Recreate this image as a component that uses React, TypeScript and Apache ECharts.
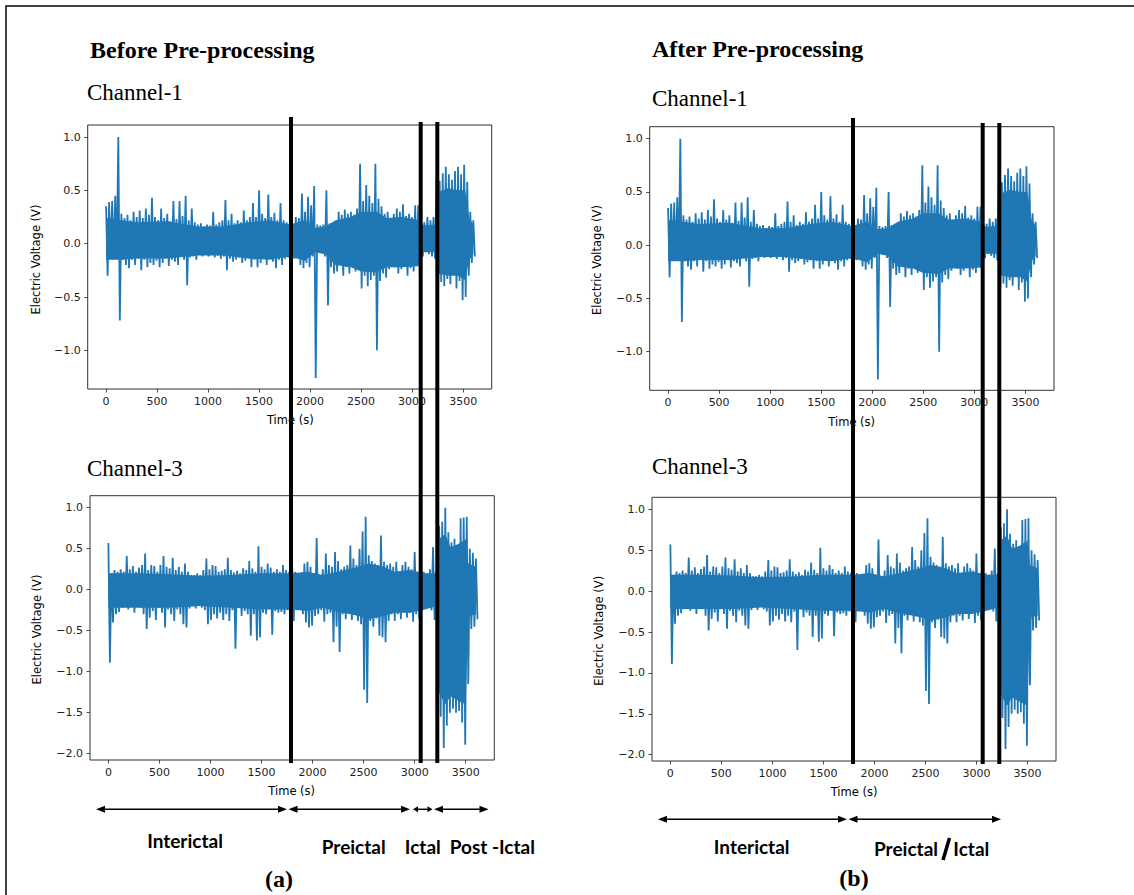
import React, { useEffect, useRef } from "react";
import * as echarts from "echarts";

// ---------- data ----------
const timeTicks = [0, 500, 1000, 1500, 2000, 2500, 3000, 3500];
const ch1VoltTicks = [-1.0, -0.5, 0.0, 0.5, 1.0];
const ch3VoltTicks = [-2.0, -1.5, -1.0, -0.5, 0.0, 0.5, 1.0];
const binSeconds = 30; // one upper and one lower excursion per 30 s bin, t = 0..3600

// peak excursions (spikes) per 30 s bin
const ch1Hi = [
  0.35, 0.39, 0.4, 0.45, 1.0, 0.28, 0.24, 0.27, 0.22, 0.3,
  0.25, 0.31, 0.24, 0.33, 0.27, 0.43, 0.25, 0.22, 0.33, 0.24,
  0.28, 0.21, 0.4, 0.23, 0.4, 0.26, 0.45, 0.22, 0.33, 0.2,
  0.18, 0.19, 0.16, 0.18, 0.17, 0.3, 0.18, 0.2, 0.22, 0.41,
  0.22, 0.28, 0.19, 0.22, 0.2, 0.31, 0.22, 0.25, 0.38, 0.25,
  0.5, 0.28, 0.24, 0.46, 0.25, 0.29, 0.22, 0.38, 0.22, 0.2,
  0.19, 0.18, 0.25, 0.24, 0.47, 0.3, 0.44, 0.36, 0.54, 0.18,
  0.17, 0.18, 0.5, 0.19, 0.18, 0.2, 0.3, 0.27, 0.32, 0.28,
  0.3, 0.27, 0.33, 0.75, 0.4, 0.55, 0.45, 0.38, 0.75, 0.42,
  0.35, 0.28, 0.3, 0.22, 0.28, 0.33, 0.3, 0.37, 0.26, 0.28,
  0.25, 0.36, 0.36, 0.18, 0.2, 0.25, 0.22, 0.25, 0.6, 0.59,
  0.66, 0.72, 0.65, 0.6, 0.68, 0.72, 0.65, 0.74, 0.58, 0.3,
  0.22,
];
const ch1Lo = [
  -0.3, -0.12, -0.14, -0.13, -0.72, -0.15, -0.2, -0.23, -0.15, -0.2,
  -0.14, -0.25, -0.15, -0.22, -0.18, -0.2, -0.16, -0.22, -0.18, -0.14,
  -0.21, -0.15, -0.17, -0.2, -0.12, -0.15, -0.39, -0.13, -0.12, -0.15,
  -0.1, -0.12, -0.09, -0.12, -0.1, -0.13, -0.11, -0.14, -0.12, -0.25,
  -0.14, -0.17, -0.15, -0.13, -0.18, -0.16, -0.14, -0.22, -0.15, -0.22,
  -0.18, -0.14, -0.2, -0.14, -0.17, -0.23, -0.15, -0.2, -0.14, -0.13,
  -0.1, -0.14, -0.1, -0.2, -0.23, -0.18, -0.22, -0.12, -1.26, -0.08,
  -0.09, -0.12, -0.58, -0.22, -0.28, -0.26, -0.2, -0.3, -0.22, -0.28,
  -0.2, -0.26, -0.24, -0.42, -0.3, -0.4, -0.34, -0.3, -1.0, -0.35,
  -0.28, -0.32, -0.24, -0.2, -0.22, -0.28, -0.24, -0.2, -0.3, -0.23,
  -0.26, -0.2, -0.3, -0.12, -0.08, -0.1, -0.12, -0.14, -0.4, -0.36,
  -0.4, -0.33, -0.38, -0.28, -0.42, -0.35, -0.53, -0.5, -0.3, -0.18,
  -0.12,
];
const ch3Hi = [
  0.57, 0.2, 0.24, 0.22, 0.25, 0.22, 0.41, 0.25, 0.29, 0.22,
  0.27, 0.3, 0.44, 0.24, 0.3, 0.29, 0.22, 0.3, 0.41, 0.28,
  0.26, 0.39, 0.24, 0.28, 0.22, 0.32, 0.22, 0.18, 0.18, 0.2,
  0.18, 0.24, 0.38, 0.25, 0.3, 0.29, 0.22, 0.23, 0.25, 0.39,
  0.24, 0.21, 0.23, 0.2, 0.26, 0.24, 0.35, 0.26, 0.22, 0.53,
  0.28, 0.25, 0.32, 0.27, 0.22, 0.25, 0.22, 0.3, 0.24, 0.22,
  0.3, 0.22, 0.18, 0.2, 0.32, 0.34, 0.28, 0.2, 0.63, 0.13,
  0.25, 0.44, 0.3, 0.28, 0.46, 0.35, 0.25, 0.28, 0.3, 0.54,
  0.38, 0.3, 0.5, 0.71, 0.89, 0.42, 0.35, 0.32, 0.3, 0.66,
  0.34, 0.3, 0.32, 0.28, 0.34, 0.22, 0.3, 0.34, 0.28, 0.25,
  0.46, 0.22, 0.2, 0.22, 0.2, 0.25, 0.52, 0.22, 0.78, 0.83,
  1.0, 0.7, 0.58, 0.62, 0.55, 0.87, 0.88, 0.89, 0.5, 0.45,
  0.38,
];
const ch3Lo = [
  -0.89, -0.4, -0.3, -0.27, -0.22, -0.2, -0.24, -0.2, -0.28, -0.18,
  -0.22, -0.3, -0.48, -0.34, -0.26, -0.37, -0.22, -0.28, -0.46, -0.24,
  -0.3, -0.38, -0.24, -0.3, -0.42, -0.46, -0.23, -0.2, -0.23, -0.18,
  -0.22, -0.25, -0.42, -0.37, -0.3, -0.35, -0.28, -0.37, -0.3, -0.38,
  -0.25, -0.72, -0.22, -0.32, -0.26, -0.3, -0.56, -0.3, -0.62, -0.58,
  -0.28, -0.3, -0.22, -0.55, -0.26, -0.28, -0.27, -0.3, -0.25, -0.28,
  -0.38, -0.25, -0.23, -0.3, -0.4, -0.46, -0.44, -0.32, -0.3, -0.25,
  -0.39, -0.3, -0.28, -0.64, -0.45, -0.76, -0.3, -0.36, -0.28, -0.37,
  -0.3, -0.38, -0.42, -1.22, -1.38, -0.38, -0.45, -0.35, -0.56, -0.58,
  -0.64, -0.38, -0.3, -0.38, -0.3, -0.36, -0.28, -0.34, -0.28, -0.39,
  -0.3, -0.36, -0.25, -0.22, -0.2, -0.25, -0.37, -0.3, -1.55, -1.93,
  -1.66, -1.5, -1.45, -1.5, -1.48, -1.62, -1.89, -1.15, -0.48, -0.45,
  -0.36,
];

// the solid (densely oscillating) core of each trace, at breakpoints
const ch1CoreTimes = [0, 150, 300, 600, 900, 1150, 1400, 1600, 1800, 1950, 2050, 2150, 2250, 2400, 2500, 2650, 2750, 2900, 3080, 3110, 3230, 3245, 3350, 3450, 3520, 3560, 3600];
const ch1CoreHi = [0.24, 0.22, 0.2, 0.21, 0.16, 0.16, 0.2, 0.22, 0.18, 0.22, 0.15, 0.16, 0.22, 0.25, 0.3, 0.3, 0.24, 0.25, 0.22, 0.17, 0.18, 0.48, 0.52, 0.5, 0.5, 0.24, 0.18];
const ch1CoreLo = [-0.15, -0.15, -0.14, -0.14, -0.11, -0.11, -0.14, -0.15, -0.12, -0.16, -0.08, -0.1, -0.2, -0.22, -0.26, -0.27, -0.22, -0.22, -0.21, -0.08, -0.08, -0.28, -0.3, -0.3, -0.34, -0.15, -0.1];
const ch3CoreTimes = [0, 300, 600, 900, 1200, 1500, 1800, 1950, 2100, 2250, 2450, 2550, 2700, 2800, 2950, 3100, 3220, 3235, 3300, 3350, 3420, 3500, 3525, 3600];
const ch3CoreHi = [0.2, 0.2, 0.19, 0.17, 0.18, 0.2, 0.2, 0.22, 0.18, 0.22, 0.28, 0.32, 0.28, 0.22, 0.24, 0.2, 0.2, 0.62, 0.68, 0.52, 0.55, 0.62, 0.32, 0.28];
const ch3CoreLo = [-0.22, -0.22, -0.22, -0.2, -0.22, -0.24, -0.24, -0.26, -0.22, -0.27, -0.32, -0.36, -0.32, -0.28, -0.28, -0.24, -0.2, -1.25, -1.4, -1.3, -1.35, -1.4, -0.32, -0.3];

function buildTrace(hi: number[], lo: number[]) {
  const pts: number[][] = [];
  for (let i = 0; i < hi.length; i++) {
    pts.push([i * binSeconds, hi[i]]);
    pts.push([i * binSeconds + binSeconds / 2, lo[i]]);
  }
  return pts;
}
const pairUp = (ts: number[], vs: number[]) => ts.map((t, i) => [t, vs[i]]);

const SERIF = '"Liberation Serif", "Times New Roman", serif';
const MPL = '"DejaVu Sans", sans-serif';
const SANS_B = 'Lato, "Open Sans", sans-serif';
const BLUE = "#1f77b4";
const INK = "#222";

const fmtVolt = (v: number) => v.toFixed(1).replace("-", "\u2212");
const fmtTime = (v: number) => String(Math.round(v));

export default function App() {
  const ref = useRef<HTMLDivElement>(null);

  useEffect(() => {
    document.body.style.margin = "0";
    if (!ref.current) return;
    const chart = echarts.init(ref.current, null, { renderer: "svg", width: 1134, height: 895 });

    const ch1 = {
      trace: buildTrace(ch1Hi, ch1Lo),
      coreHi: pairUp(ch1CoreTimes, ch1CoreHi),
      coreLo: pairUp(ch1CoreTimes, ch1CoreLo),
    };
    const ch3 = {
      trace: buildTrace(ch3Hi, ch3Lo),
      coreHi: pairUp(ch3CoreTimes, ch3CoreHi),
      coreLo: pairUp(ch3CoreTimes, ch3CoreLo),
    };

    const panels = [
      { grid: { left: 87.7, top: 125, width: 404, height: 264 }, y: [-1.3625, 1.1125], ticks: ch1VoltTicks, data: ch1 },
      { grid: { left: 649.7, top: 126.7, width: 404.3, height: 263.6 }, y: [-1.3625, 1.1125], ticks: ch1VoltTicks, data: ch1 },
      { grid: { left: 90, top: 495.7, width: 404.3, height: 264.3 }, y: [-2.0765, 1.1465], ticks: ch3VoltTicks, data: ch3 },
      { grid: { left: 652, top: 497.3, width: 404, height: 263.7 }, y: [-2.0765, 1.1465], ticks: ch3VoltTicks, data: ch3 },
    ];

    const grids = panels.map((p) => ({
      ...p.grid,
      show: true,
      borderColor: "#333",
      borderWidth: 1,
      backgroundColor: "transparent",
      containLabel: false,
    }));

    const xAxes = panels.map((p, i) => ({
      gridIndex: i,
      type: "value",
      min: -180,
      max: 3780,
      axisLine: { show: false, onZero: false },
      splitLine: { show: false },
      axisTick: { show: true, customValues: timeTicks, length: 3.5, lineStyle: { color: INK, width: 0.8 } },
      axisLabel: { customValues: timeTicks, fontSize: 11, color: INK, fontFamily: MPL, margin: 7, formatter: fmtTime },
    }));

    const yAxes = panels.map((p, i) => ({
      gridIndex: i,
      type: "value",
      min: p.y[0],
      max: p.y[1],
      axisLine: { show: false, onZero: false },
      splitLine: { show: false },
      axisTick: { show: true, customValues: p.ticks, length: 3.5, lineStyle: { color: INK, width: 0.8 } },
      axisLabel: { customValues: p.ticks, fontSize: 11, color: INK, fontFamily: MPL, margin: 7, formatter: fmtVolt },
    }));

    const series: any[] = [];
    panels.forEach((p, i) => {
      const common = {
        type: "line",
        xAxisIndex: i,
        yAxisIndex: i,
        showSymbol: false,
        symbol: "none",
        clip: true,
        emphasis: { disabled: true },
      };
      series.push({ ...common, data: p.data.coreHi, lineStyle: { width: 0, color: BLUE }, areaStyle: { color: BLUE, opacity: 1, origin: 0 }, z: 1 });
      series.push({ ...common, data: p.data.coreLo, lineStyle: { width: 0, color: BLUE }, areaStyle: { color: BLUE, opacity: 1, origin: 0 }, z: 1 });
      series.push({ ...common, data: p.data.trace, lineStyle: { color: BLUE, width: 1.8 }, z: 2 });
    });

    const txt = (x: number, y: number, s: string, size: number, family: string, weight: string, align = "left", extra: any = {}) => ({
      type: "text",
      x,
      y,
      z: 100,
      ...extra,
      style: { text: s, fontSize: size, fontFamily: family, fontWeight: weight, fill: "#000", align, verticalAlign: "middle" },
    });

    const vline = (x: number, y1: number, y2: number) => ({
      type: "line",
      z: 100,
      shape: { x1: x, y1, x2: x, y2 },
      style: { stroke: "#000", lineWidth: 4 },
    });

    const arrow = (x1: number, x2: number, y: number, head = 9, half = 3.5) => [
      { type: "line", z: 100, shape: { x1: x1 + 3, y1: y, x2: x2 - 3, y2: y }, style: { stroke: "#000", lineWidth: 1.5 } },
      { type: "polygon", z: 100, shape: { points: [[x1, y], [x1 + head, y - half], [x1 + head, y + half]] }, style: { fill: "#000" } },
      { type: "polygon", z: 100, shape: { points: [[x2, y], [x2 - head, y - half], [x2 - head, y + half]] }, style: { fill: "#000" } },
    ];

    const yName = (x: number, y: number) =>
      txt(x, y, "Electric Voltage (V)", 11.5, MPL, "normal", "center", { rotation: Math.PI / 2 });
    const xName = (x: number, y: number) => txt(x, y, "Time (s)", 11.5, MPL, "normal", "center");

    const elements: any[] = [
      { type: "polyline", z: 100, shape: { points: [[6, 895], [6, 6], [1134, 6]] }, style: { stroke: "#000", lineWidth: 1.5, fill: "none" } },
      txt(90, 50, "Before Pre-processing", 24, SERIF, "bold"),
      txt(652, 49, "After Pre-processing", 24, SERIF, "bold"),
      txt(87, 92.5, "Channel-1", 23, SERIF, "normal"),
      txt(652, 98, "Channel-1", 23, SERIF, "normal"),
      txt(87, 468, "Channel-3", 23, SERIF, "normal"),
      txt(652, 466, "Channel-3", 23, SERIF, "normal"),
      yName(35.5, 259.5),
      yName(597.3, 260),
      yName(37.3, 629.5),
      yName(599, 630.8),
      xName(290.3, 420),
      xName(851.7, 421.7),
      xName(291.7, 790.7),
      xName(854, 791.7),
      vline(291, 117, 763),
      vline(420.7, 122, 763),
      vline(437.3, 122, 763),
      vline(853, 118, 764),
      vline(982.7, 123, 764),
      vline(999.3, 123, 764),
      ...arrow(96, 287, 809.3),
      ...arrow(288.5, 410, 809.3),
      ...arrow(413, 432.5, 809.3, 5, 3),
      ...arrow(434, 488.5, 809.3),
      ...arrow(658, 847, 819.3),
      ...arrow(848.5, 1001, 819.3),
      txt(185, 840, "Interictal", 19, SANS_B, "bold", "center"),
      txt(353.7, 846.7, "Preictal", 19, SANS_B, "bold", "center"),
      txt(422.8, 846.7, "Ictal", 19, SANS_B, "bold", "center"),
      txt(492.3, 846.7, "Post -Ictal", 19, SANS_B, "bold", "center"),
      txt(279, 879, "(a)", 24, SERIF, "bold", "center"),
      txt(751.7, 846.7, "Interictal", 19, SANS_B, "bold", "center"),
      txt(906, 848.3, "Preictal", 19, SANS_B, "bold", "center"),
      { type: "line", z: 100, shape: { x1: 943, y1: 860, x2: 949.5, y2: 838 }, style: { stroke: "#000", lineWidth: 3.5 } },
      txt(971.3, 848.3, "Ictal", 19, SANS_B, "bold", "center"),
      txt(854, 878, "(b)", 24, SERIF, "bold", "center"),
    ];

    chart.setOption({
      animation: false,
      backgroundColor: "#fff",
      grid: grids,
      xAxis: xAxes,
      yAxis: yAxes,
      series,
      graphic: { elements },
    });

    return () => chart.dispose();
  }, []);

  return <div ref={ref} style={{ width: 1134, height: 895 }} />;
}
